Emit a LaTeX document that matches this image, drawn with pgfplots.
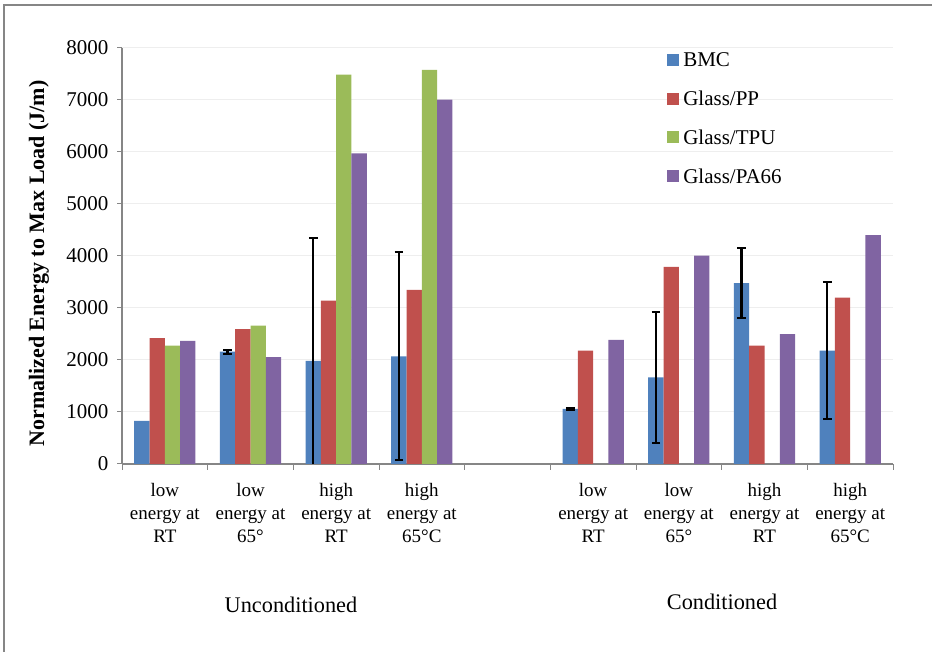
\documentclass[border=0pt]{standalone}
\usepackage{pgfplots}
\pgfplotsset{compat=1.18}
\usepackage{fontspec}
\setmainfont{Liberation Serif}

\definecolor{cBMC}{HTML}{4F81BD}
\definecolor{cPP}{HTML}{C0504D}
\definecolor{cTPU}{HTML}{9BBB59}
\definecolor{cPA}{HTML}{8064A2}
\definecolor{axisgray}{HTML}{868686}
\definecolor{gridgray}{HTML}{EEEEEE}

\begin{document}
\begin{tikzpicture}[x=1pt,y=1pt]
% outer chart frame
\draw[axisgray, line width=1.5pt] (4,0) -- (4,647) -- (932,647);

\begin{axis}[
  at={(122pt,188pt)}, anchor=south west,
  scale only axis, width=771pt, height=416pt,
  ybar, bar width=15.3pt,
  xmin=-0.5, xmax=8.5, ymin=0, ymax=8000,
  xtick={0,...,8},
  xticklabels={{low\\energy at\\RT},{low\\energy at\\65°},{high\\energy at\\RT},{high\\energy at\\65°C},{},{low\\energy at\\RT},{low\\energy at\\65°},{high\\energy at\\RT},{high\\energy at\\65°C}},
  minor xtick={-0.5,0.5,...,8.5},
  ytick={0,1000,...,8000},
  axis x line*=bottom, axis y line*=left,
  axis line style={axisgray, line width=1.2pt, -},
  major x tick style={draw=none},
  minor x tick style={axisgray, line width=1pt},
  minor tick length=6pt,
  y tick style={axisgray, line width=1pt},
  major tick length=5pt,
  tick align=outside,
  ymajorgrids, grid style={gridgray, line width=1pt},
  /pgf/number format/assume math mode=true,
  /pgf/number format/1000 sep={},
  yticklabel style={font=\fontsize{21}{25}\selectfont, xshift=-5pt},
  xticklabel style={font=\fontsize{19}{23}\selectfont, align=center, anchor=north, yshift=-11pt},
  legend cell align=left,
  legend image code/.code={\fill[#1] (0pt,-3.4pt) rectangle (12pt,8.6pt);},
  legend style={draw=none, fill=none, at={(0.707,0.989)}, anchor=north west,
    font=\fontsize{21}{25}\selectfont, inner sep=0pt, row sep=19.9pt,
    nodes={inner sep=0pt, text height=14pt, text depth=5pt},
    /tikz/every odd column/.append style={column sep=4pt}},
]
\addplot[fill=cBMC, draw=none, bar shift=-22.95pt] coordinates
  {(0,830) (1,2161) (2,1982) (3,2072) (5,1058) (6,1668) (7,3477) (8,2181)};
\addplot[fill=cPP, draw=none, bar shift=-7.65pt] coordinates
  {(0,2419) (1,2592) (2,3143) (3,3349) (5,2181) (6,3791) (7,2277) (8,3201)};
\addplot[fill=cTPU, draw=none, bar shift=7.65pt] coordinates
  {(0,2277) (1,2662) (2,7487) (3,7577)};
\addplot[fill=cPA, draw=none, bar shift=22.95pt] coordinates
  {(0,2367) (1,2053) (2,5972) (3,7005) (5,2386) (6,4009) (7,2496) (8,4401)};
\legend{BMC, Glass/PP, Glass/TPU, Glass/PA66}
% standard deviation of the BMC samples
\addplot[forget plot, draw=none, fill=none, bar shift=-22.95pt,
  error bars/.cd, y dir=both, y explicit,
  error bar style={black, line width=2.2pt},
  error mark options={black, line width=2pt, mark size=4.3pt, rotate=90}]
  coordinates {
  (1,2161) +- (0,40)
  (2,1982) +- (0,2370)
  (3,2072) +- (0,2000)
  (5,1058) +- (0,20)
  (6,1668) +- (0,1257)
  (7,3477) +- (0,670)
  (8,2181) +- (0,1325)
  };
\end{axis}

\node[rotate=90, font=\bfseries\fontsize{22}{26}\selectfont] at (39,388.5) {Normalized Energy to Max Load (J/m)};
\node[anchor=base, font=\fontsize{22.3}{26}\selectfont] at (291,39) {Unconditioned};
\node[anchor=base, font=\fontsize{22.3}{26}\selectfont] at (722,42) {Conditioned};

\pgfresetboundingbox
\path[use as bounding box] (0,0) rectangle (932,652);
\end{tikzpicture}
\end{document}
